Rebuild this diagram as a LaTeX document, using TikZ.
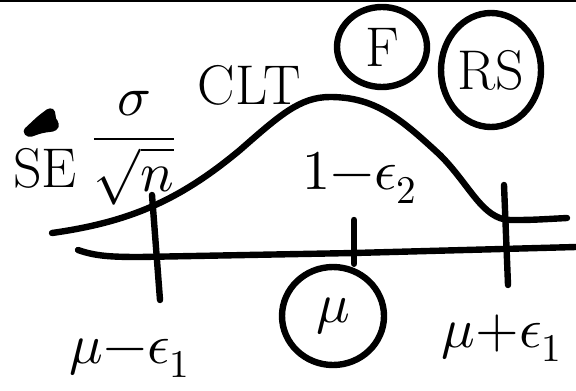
\documentclass[tikz,border=0pt]{standalone}
\usepackage{unicode-math}
\usetikzlibrary{shapes.geometric}

\begin{document}
\begin{tikzpicture}[
    x=0.5pt, y=-0.5pt,
    pen/.style={line width=3.2pt, line cap=round, line join=round},
    hand/.style={font=\fontsize{28}{32}\selectfont, inner sep=0pt},
    ring/.style={hand, draw, ellipse, line width=3.2pt, inner sep=0pt}
  ]
  \useasboundingbox (0,0) rectangle (576,390);
  \draw[line width=1.5pt] (0,1) -- (576,1);

  % labels over the curve
  \node[hand] (se) at (45,168) {SE};
  \fill[rounded corners=2pt] (22,131) -- (38,116) -- (50,107) -- (56,111) -- (55,119) -- (60,123) -- (57,131) -- (42,133) -- (28,138) -- cycle;
  \node[hand] (sdev) at (134,148) {$\dfrac{\sigma}{\sqrt{n}}$};
  \node[hand] (clt) at (249,85) {CLT};
  \node[ring, minimum width=45pt, minimum height=40pt] (fring) at (382,47) {F};
  \node[ring, minimum width=50pt, minimum height=57pt] (rsring) at (491,70) {RS};
  \node[hand] (cover) at (360,178) {$1{-}\epsilon_2$};

  % bell curve
  \draw[pen] (52,233) .. controls (130,222) and (180,200) .. (240,150)
    .. controls (280,115) and (300,97) .. (330,97)
    .. controls (375,97) and (400,118) .. (440,155)
    .. controls (470,185) and (482,219) .. (510,220)
    .. controls (530,220) .. (567,218);

  % axis and ticks
  \draw[pen] (78,250) .. controls (95,256) and (110,257) .. (140,257) -- (354,253) -- (576,247);
  \coordinate (lowtop) at (152,195);
  \coordinate (midtop) at (354,220);
  \coordinate (hightop) at (504,185);
  \node[ring, minimum width=51pt, minimum height=49pt] (mu) at (333,316) {$\mu$};
  \draw[pen] (lowtop) -- (160,300);
  \draw[pen] (midtop) -- (midtop |- mu.north);
  \draw[pen] (hightop) -- (508,285);

  % interval ends
  \node[hand] (lowend) at (130,358) {$\mu{-}\epsilon_1$};
  \node[hand] (highend) at (502,338) {$\mu{+}\epsilon_1$};
\end{tikzpicture}
\end{document}
